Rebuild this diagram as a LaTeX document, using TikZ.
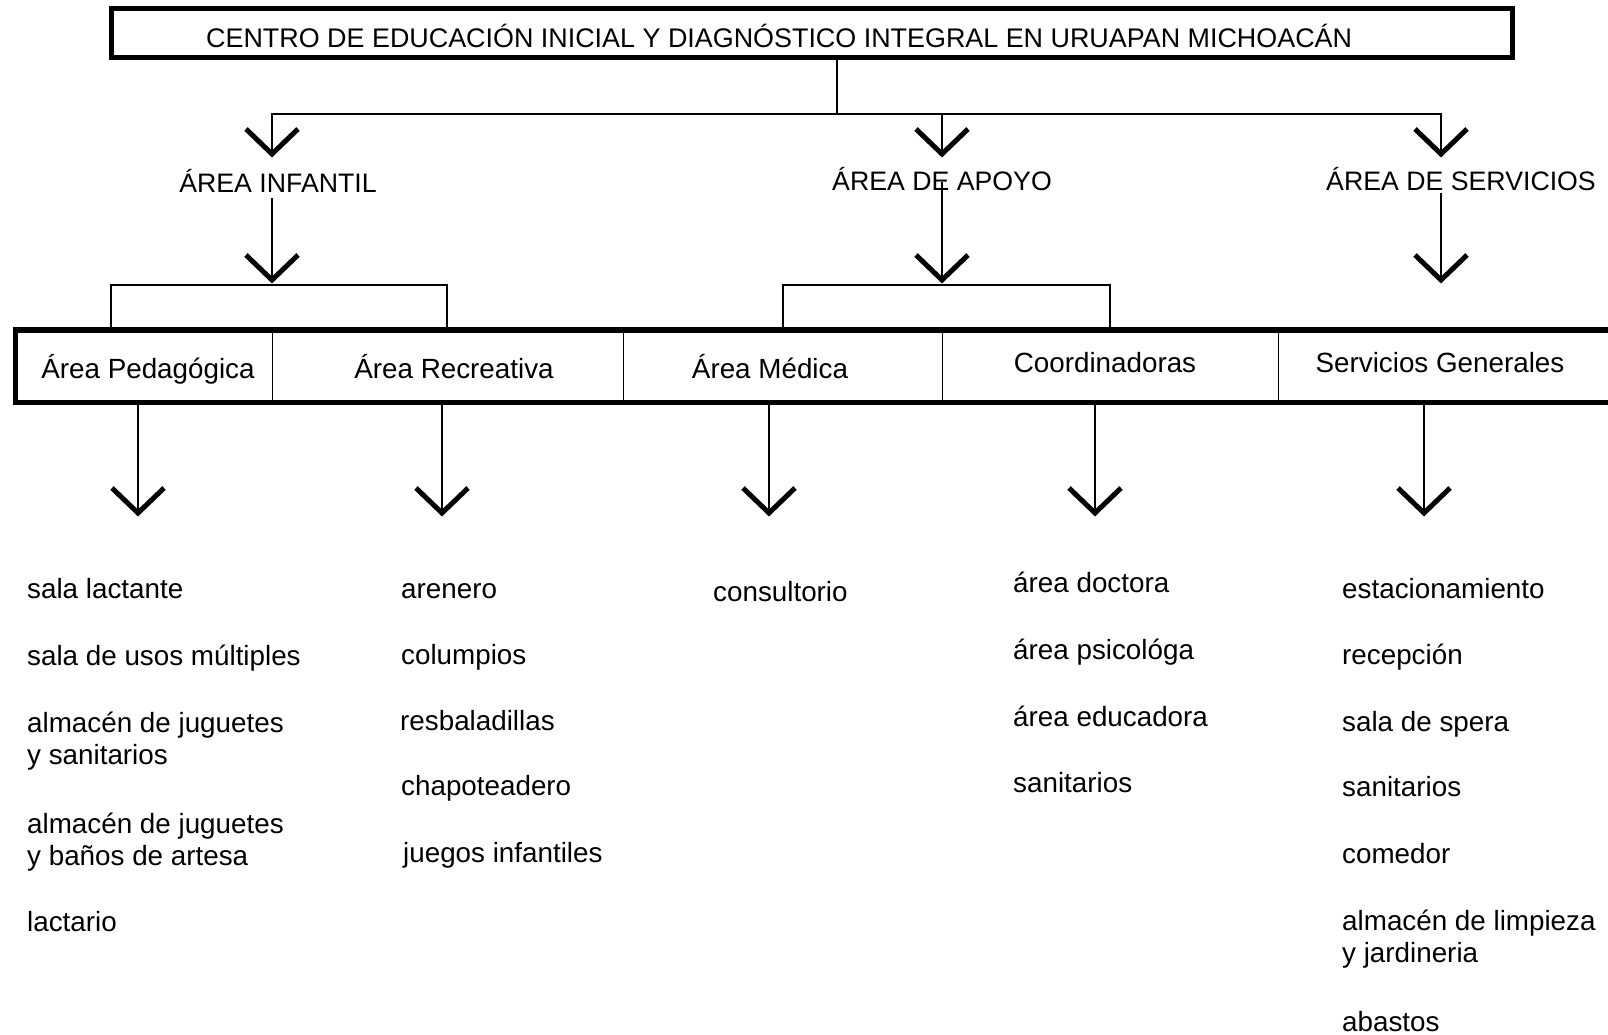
\documentclass[tikz,border=0pt]{standalone}
\usepackage{fontspec}
\setmainfont{Liberation Sans}
\newcommand\dfont{\fontsize{26.7}{32}\selectfont}
\newcommand\tfont{\fontsize{26.9}{32}\selectfont}
\newcommand\lfont{\fontsize{27.8}{32}\selectfont}
\newcommand\twol[2]{\begin{tabular}[t]{@{}l@{}}#1\\#2\end{tabular}}
\begin{document}
\begin{tikzpicture}[x=1pt,y=-1pt,
  thinline/.style={line width=1.1pt},
  chev/.style={line width=5pt, line join=miter, line cap=butt},
  lbl/.style={font=\dfont, inner sep=0pt, anchor=base},
  rowlbl/.style={font=\lfont, inner sep=0pt, anchor=base},
  item/.style={font=\lfont, inner sep=0pt, anchor=base west},
  cell/.style={draw, line width=1pt, minimum height=71.5pt, inner sep=0pt}]
\useasboundingbox (0,0) rectangle (1608,1034);
\fill[white] (0,0) rectangle (1608,1034);
\clip (0,0) rectangle (1608,1034);

% title
\node[draw, line width=5pt, minimum width=1401pt, minimum height=49pt, inner sep=0pt] (title) at (811.5,33) {};
\node[font=\tfont, inner sep=0pt, anchor=base west] (titletext) at (206,47) {CENTRO DE EDUCACIÓN INICIAL Y DIAGNÓSTICO INTEGRAL EN URUAPAN MICHOACÁN};

% level 1
\coordinate (hub) at (837,114);
\coordinate (t1) at (272,154);
\coordinate (t2) at (942,154);
\coordinate (t3) at (1441,154);
\node[lbl] (infantil) at (278,192) {ÁREA INFANTIL};
\node[lbl] (apoyo) at (942,190) {ÁREA DE APOYO};
\node[lbl] (servicios) at (1461,190) {ÁREA DE SERVICIOS};

\draw[thinline] (title.south -| hub) -- (hub) -| (t1);
\draw[thinline] (hub) -| (t2);
\draw[thinline] (hub) -| (t3);

% level 2
\coordinate (u1) at (272,280);
\coordinate (u2) at (942,280);
\coordinate (u3) at (1441,280);
\draw[thinline] ([yshift=-6pt]infantil.base -| u1) -- (u1);
\draw[thinline] ([yshift=8pt]apoyo.base -| u2) -- (u2);
\draw[thinline] ([yshift=-3pt]servicios.base -| u3) -- (u3);

% row of cells
\node[cell, minimum width=256pt] (c1) at (144,366.25) {};
\node[cell, minimum width=351pt] (c2) at (447.5,366.25) {};
\node[cell, minimum width=319pt] (c3) at (782.5,366.25) {};
\node[cell, minimum width=336pt] (c4) at (1110,366.25) {};
\node[cell, minimum width=352pt] (c5) at (1454,366.25) {};
\draw[line width=5.5pt] (c1.north west) rectangle (c5.south east);

\node[rowlbl] (lped) at (148,378) {Área Pedagógica};
\node[rowlbl] (lrec) at (454,378) {Área Recreativa};
\node[rowlbl] (lmed) at (770,378) {Área Médica};
\node[rowlbl] (lcoo) at (1105,372) {Coordinadoras};
\node[rowlbl] (lser) at (1440,372) {Servicios Generales};

% brackets
\coordinate (bl1) at (111,285);
\coordinate (br1) at (447,285);
\coordinate (bl2) at (783,285);
\coordinate (br2) at (1110,285);
\draw[thinline] (bl1 |- c1.north) -- (bl1) -- (br1) -- (br1 |- c2.north);
\draw[thinline] (bl2 |- c3.north) -- (bl2) -- (br2) -- (br2 |- c4.north);

% lower connectors
\coordinate (d1) at (138,513);
\coordinate (d2) at (442,513);
\coordinate (d3) at (769,513);
\coordinate (d4) at (1095,513);
\coordinate (d5) at (1424,513);
\draw[thinline] (d1 |- c1.south) -- (d1);
\draw[thinline] (d2 |- c2.south) -- (d2);
\draw[thinline] (d3 |- c3.south) -- (d3);
\draw[thinline] (d4 |- c4.south) -- (d4);
\draw[thinline] (d5 |- c5.south) -- (d5);

% chevrons
\foreach \t in {t1,t2,t3,u1,u2,u3,d1,d2,d3,d4,d5}
  \draw[chev] ([shift={(-26,-25)}]\t) -- (\t) -- ([shift={(26,-25)}]\t);

% lists
\node[item] (p1) at (27,598) {sala lactante};
\node[item] (p2) at (27,665) {sala de usos múltiples};
\node[item] (p3) at (27,732) {\twol{almacén de juguetes}{y sanitarios}};
\node[item] (p4) at (27,833) {\twol{almacén de juguetes}{y baños de artesa}};
\node[item] (p5) at (27,931) {lactario};

\node[item] (r1) at (401,598) {arenero};
\node[item] (r2) at (401,664) {columpios};
\node[item] (r3) at (400,730) {resbaladillas};
\node[item] (r4) at (401,795) {chapoteadero};
\node[item] (r5) at (403,862) {juegos infantiles};

\node[item] (m1) at (713,601) {consultorio};

\node[item] (k1) at (1013,592) {área doctora};
\node[item] (k2) at (1013,659) {área psicológa};
\node[item] (k3) at (1013,726) {área educadora};
\node[item] (k4) at (1013,792) {sanitarios};

\node[item] (s1) at (1342,598) {estacionamiento};
\node[item] (s2) at (1342,664) {recepción};
\node[item] (s3) at (1342,731) {sala de spera};
\node[item] (s4) at (1342,796) {sanitarios};
\node[item] (s5) at (1342,863) {comedor};
\node[item] (s6) at (1342,930) {\twol{almacén de limpieza}{y jardineria}};
\node[item] (s7) at (1342,1031) {abastos};
\end{tikzpicture}
\end{document}
